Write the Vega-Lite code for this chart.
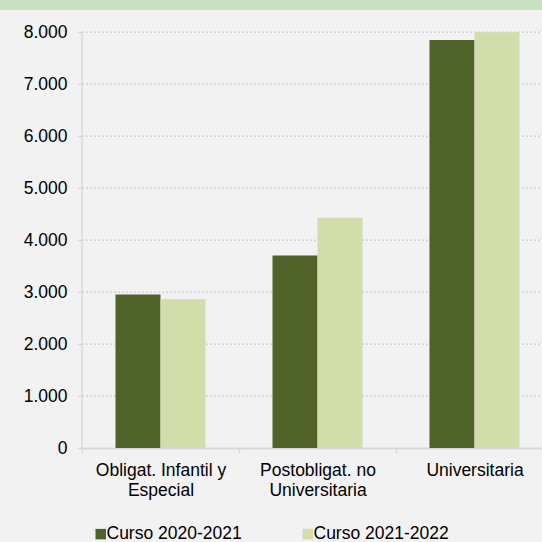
{
  "$schema": "https://vega.github.io/schema/vega-lite/v6.json",
  "width": 542,
  "height": 448,
  "autosize": {"type": "none"},
  "padding": {"left": 0, "top": 0, "right": 0, "bottom": 94},
  "background": "#f2f2f2",
  "config": {"view": {"stroke": null}, "font": "Liberation Sans"},
  "datasets": {
    "bars": [
      {"cat": "Obligat. Infantil y Especial", "serie": "Curso 2020-2021", "valor": 2955},
      {"cat": "Obligat. Infantil y Especial", "serie": "Curso 2021-2022", "valor": 2860},
      {"cat": "Postobligat. no Universitaria", "serie": "Curso 2020-2021", "valor": 3705},
      {"cat": "Postobligat. no Universitaria", "serie": "Curso 2021-2022", "valor": 4430},
      {"cat": "Universitaria", "serie": "Curso 2020-2021", "valor": 7850},
      {"cat": "Universitaria", "serie": "Curso 2021-2022", "valor": 8000}
    ],
    "grid": [
      {"v": 1000}, {"v": 2000}, {"v": 3000}, {"v": 4000},
      {"v": 5000}, {"v": 6000}, {"v": 7000}, {"v": 8000}
    ],
    "one": [{}]
  },
  "layer": [
    {
      "data": {"name": "one"},
      "mark": {"type": "rect", "color": "#cbdfc2"},
      "encoding": {
        "x": {"value": 0},
        "x2": {"value": {"expr": "width"}},
        "y": {"datum": 8427, "type": "quantitative"},
        "y2": {"datum": 8620}
      }
    },
    {
      "data": {"name": "grid"},
      "mark": {"type": "rule", "color": "#cccccc", "strokeWidth": 1.3, "strokeDash": [2, 2], "clip": false},
      "encoding": {
        "y": {"field": "v", "type": "quantitative"},
        "x": {"datum": "Obligat. Infantil y Especial", "type": "nominal", "bandPosition": 0},
        "x2": {"datum": "Universitaria", "bandPosition": 1}
      }
    },
    {
      "data": {"name": "one"},
      "mark": {"type": "rule", "color": "#d9d9d9", "strokeWidth": 1.5},
      "encoding": {
        "x": {"datum": "Obligat. Infantil y Especial", "type": "nominal", "bandPosition": 0},
        "y": {"datum": 0, "type": "quantitative"},
        "y2": {"datum": 8000}
      }
    },
    {
      "data": {"name": "bars"},
      "mark": {"type": "bar"},
      "encoding": {
        "x": {
          "field": "cat", "type": "nominal", "sort": null,
          "scale": {"domain": ["Obligat. Infantil y Especial", "Postobligat. no Universitaria", "Universitaria"], "range": [82, 553], "paddingInner": 0, "paddingOuter": 0},
          "axis": {
            "title": null, "labelAngle": 0, "labelAlign": "center", "tickBand": "extent",
            "domainColor": "#d9d9d9", "domainWidth": 1.8,
            "tickColor": "#d9d9d9", "tickSize": 5, "tickWidth": 1.5,
            "labelFontSize": 17.5, "labelColor": "#000000", "labelPadding": 17,
            "labelLineHeight": 20, "labelOverlap": false, "labelBound": false, "labelFlush": false,
            "labelExpr": "datum.value == 'Obligat. Infantil y Especial' ? ['Obligat. Infantil y', 'Especial'] : datum.value == 'Postobligat. no Universitaria' ? ['Postobligat. no', 'Universitaria'] : datum.label"
          }
        },
        "xOffset": {"field": "serie", "type": "nominal", "scale": {"paddingInner": 0, "paddingOuter": 0.744}},
        "y": {
          "field": "valor", "type": "quantitative",
          "scale": {"domain": [0, 8620], "nice": false, "zero": true},
          "axis": {
            "title": null, "offset": -82, "domain": false, "grid": false,
            "values": [0, 1000, 2000, 3000, 4000, 5000, 6000, 7000, 8000],
            "labelExpr": "replace(format(datum.value, ','), ',', '.')",
            "tickColor": "#d9d9d9", "tickSize": 5, "tickWidth": 1.5,
            "labelFontSize": 17.5, "labelColor": "#000000", "labelPadding": 10
          }
        },
        "color": {
          "field": "serie", "type": "nominal",
          "scale": {"domain": ["Curso 2020-2021", "Curso 2021-2022"], "range": ["#4f6228", "#d1deab"]},
          "legend": {
            "orient": "none", "legendX": 92, "legendY": 525, "direction": "horizontal",
            "title": null, "symbolType": "square", "symbolSize": 110, "symbolStrokeWidth": 0,
            "labelFontSize": 17.5, "labelColor": "#000000", "labelOffset": -3,
            "columnPadding": 57, "padding": 0, "labelLimit": 300
          }
        }
      }
    }
  ]
}
